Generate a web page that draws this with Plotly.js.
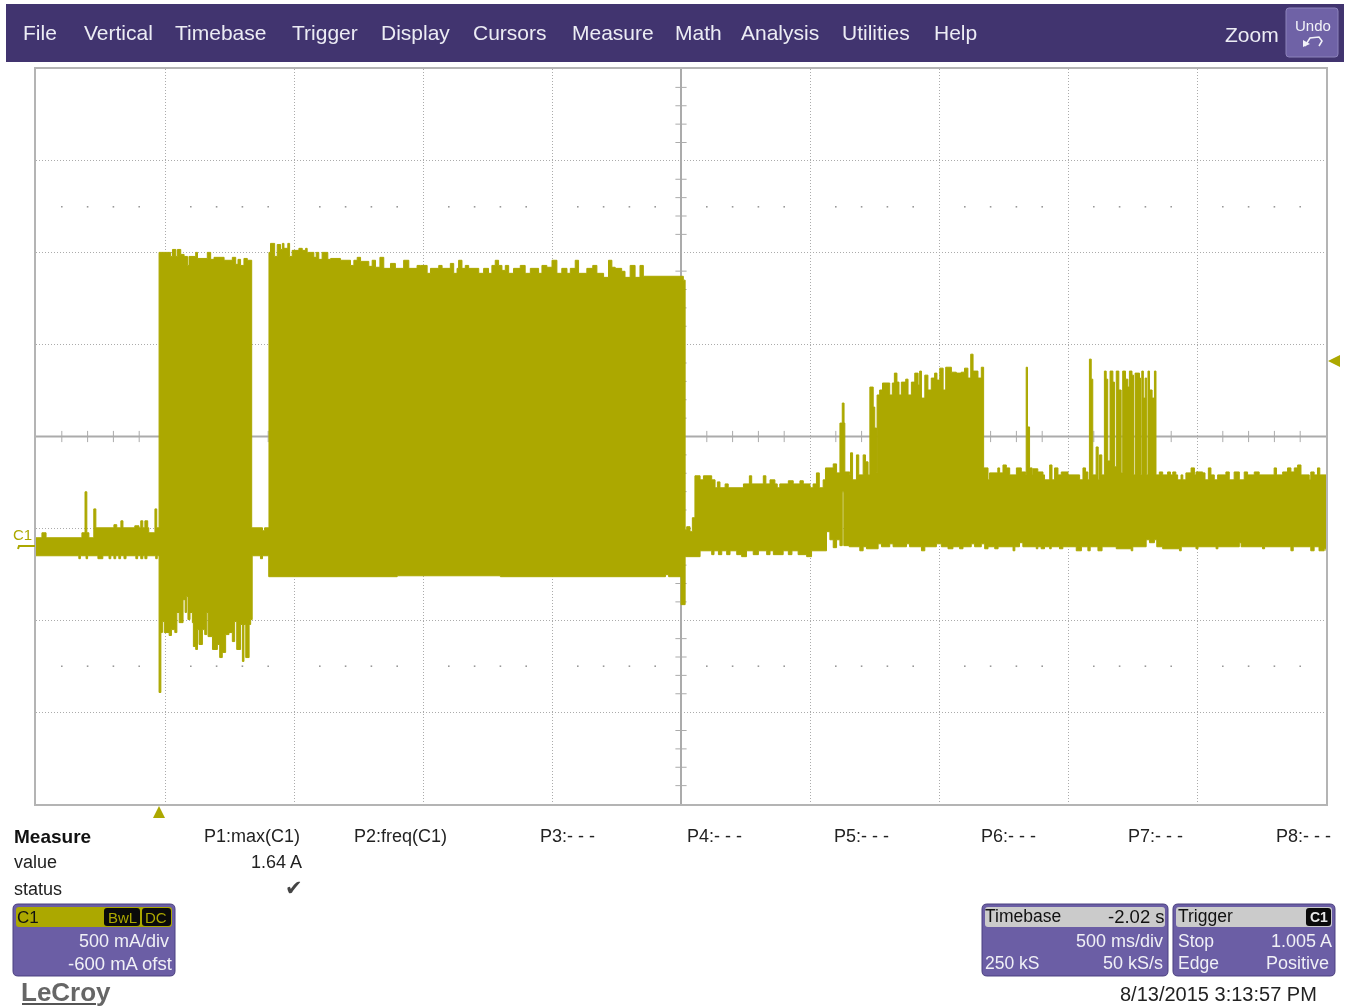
<!DOCTYPE html>
<html><head><meta charset="utf-8">
<script src="https://cdn.plot.ly/plotly-3.0.1.min.js"></script>
<style>html,body{margin:0;padding:0;background:#fff;overflow:hidden}#plot{width:1349px;height:1008px;filter:blur(0.35px)}</style>
</head><body><div id="plot"></div>
<script>
// Envelope of channel C1: time (ms), current (mA)
const idleTopTime=[0,23,39,178,190,197,205,224,232,302,313,329,337,383,399,406,414,422,433,437,461,468];
const idleTopMa=[38,65,38,65,288,65,38,195,92,109,92,130,92,103,92,130,92,130,92,65,195,92];
const burstATopTime=[477,522,529,542,548,561,574,587,593,619,626,664,677,690,729,761,774,783,793,806,819];
const burstATopMa=[1591,1569,1607,1569,1607,1580,1569,1520,1569,1591,1558,1591,1553,1564,1548,1564,1526,1553,1520,1558,1548];
const gapTopTime=[836,878,886];
const gapTopMa=[92,76,92];
const burstBTopTime=[903,909,925,935,948,955,961,976,983,993,1019,1032,1045,1051,1077,1086,1096,1109,1131,1142,1180,1219,1232,1245,1258,1290,1303,1316,1333,1348,1374,1393,1425,1445,1477,1490,1516,1529,1561,1574,1606,1619,1632,1638,1651,1664,1677,1716,1735,1754,1767,1780,1793,1806,1819,1832,1851,1877,1896,1916,1948,1961,1980,2000,2019,2038,2058,2071,2090,2103,2135,2158,2174,2200,2219,2232,2245,2270,2283,2303,2322,2341,2354,2509];
const burstBTopMa=[1591,1640,1569,1634,1607,1640,1613,1640,1569,1602,1613,1602,1613,1591,1564,1591,1553,1591,1553,1558,1548,1520,1548,1564,1542,1515,1548,1510,1564,1504,1531,1504,1548,1504,1520,1520,1477,1504,1520,1504,1531,1477,1504,1548,1504,1520,1504,1477,1504,1477,1520,1548,1520,1493,1520,1477,1504,1520,1477,1504,1477,1520,1510,1548,1477,1504,1477,1504,1548,1477,1504,1520,1477,1455,1548,1510,1504,1488,1455,1520,1455,1520,1461,1440];
const stepTopTime=[2516,2522,2535,2544,2554,2574,2587,2619,2632,2641,2651,2671,2683,2742,2765,2774,2819,2829,2845,2864,2873,2883,2916,2935,2961,2974,3000,3012,3025,3036,3051,3060,3090,3103];
const stepTopMa=[81,98,71,147,375,353,375,353,310,342,310,331,310,331,375,331,375,331,353,331,310,331,348,331,348,331,310,331,391,310,353,418,440,391];
const humpTopTime=[3116,3125,3132,3135,3154,3157,3165,3180,3189,3206,3215,3225,3232,3245,3251,3258,3260,3270,3281,3309,3319,3327,3337,3345,3354,3371,3380,3393,3406,3419,3425,3432,3445,3457,3470,3483,3492,3503,3516,3526,3548,3567,3586,3599,3612,3623,3632,3651,3664,3673,3690,3696,3728];
const humpTopMa=[662,771,662,396,380,500,353,489,380,489,451,380,858,749,635,391,815,842,880,815,880,934,885,815,885,901,815,885,934,869,945,798,923,842,907,934,896,961,842,966,939,934,939,961,907,1037,945,907,966,418,353,391,418];
const tailTopTime=[3735,3748,3761,3774,3800,3819,3836,3838,3843,3851,3861,3864,3883,3903,3909,3929,3938,3948,3961,3974,4000,4045,4058,4068,4077,4083,4090,4096,4109,4117,4122,4131,4141,4148,4154,4163,4174,4180,4187,4197,4206,4212,4223,4232,4238,4248,4254,4260,4277,4281,4286,4292,4299,4305,4310,4316,4326,4335,4341,4354,4367,4386,4397,4406,4418,4425,4438,4445,4457,4477,4490,4496,4522,4531,4544,4554,4567,4580,4612,4625,4644,4664,4683,4696,4722,4741,4799,4808,4832,4851,4864,4877,4890,4903,4935,4941,4954,4967,4976,5000];
const tailTopMa=[391,434,418,380,418,396,380,966,641,418,380,413,396,380,353,434,353,418,380,396,380,353,418,396,353,1010,901,380,532,353,489,380,945,901,456,945,885,424,945,842,391,945,901,858,945,923,380,934,907,380,945,798,907,380,945,842,798,945,380,396,380,396,380,396,380,353,380,353,391,418,380,396,391,353,418,380,353,380,396,353,396,353,396,380,396,380,418,380,396,418,396,418,434,380,353,396,380,418,380,380];
const idleBottomTime=[0,166,172,194,200,240,259,283,290,302,309,321,328,341,349,387,394,406,414,422,430,464,470];
const idleBottomMa=[-60,-76,-60,-76,-60,-76,-60,-76,-60,-76,-60,-76,-60,-76,-60,-76,-60,-76,-60,-76,-60,-76,-60];
const burstABottomTime=[477,484,490,497,516,525,538,546,555,570,578,583,589,597,606,610,619,626,632,645,654,662,667,684,703,712,722,735,748,761,770,778,793,800,806,813,826,832];
const burstABottomMa=[-804,-478,-418,-478,-494,-462,-478,-369,-424,-299,-369,-282,-407,-369,-424,-554,-570,-462,-543,-462,-489,-369,-500,-570,-543,-614,-586,-489,-478,-527,-418,-570,-434,-635,-434,-614,-434,-407];
const gapBottomTime=[838,870,878];
const gapBottomMa=[-60,-76,-60];
const burstBBottomTime=[902,1400,1800,2440,2452,2500];
const burstBBottomMa=[-174,-169,-174,-163,-174,-326];
const stepBottomTime=[2516,2574,2619,2628,2645,2658,2677,2690,2716,2735,2754,2780,2800,2832,2845,2858,2896,2916,2930,2954,2987,3006,3064,3077,3090,3103,3116,3125,3131];
const stepBottomMa=[-65,-33,-54,-33,-54,-33,-54,-33,-54,-65,-33,-54,-33,-54,-33,-54,-33,-54,-33,-54,-65,-33,71,27,-16,27,-5,288,-5];
const humpBottomTime=[3152,3193,3206,3219,3264,3277,3309,3322,3374,3386,3432,3445,3490,3509,3535,3554,3580,3593,3625,3638,3664,3677,3690,3716,3729];
const humpBottomMa=[-11,-33,-11,-22,5,-11,5,-11,5,-11,-33,-11,5,-11,-22,-11,-22,-11,5,-11,5,-22,-11,-22,-11];
const tailBottomTime=[3787,3794,3812,3825,3877,3883,3896,3909,3929,3935,3967,3980,4032,4052,4077,4086,4116,4132,4187,4245,4251,4303,4316,4335,4344,4367,4432,4439,4496,4504,4574,4581,4664,4671,4754,4762,4864,4873,4941,4954,4973,4993,5000];
const tailBottomMa=[-33,-11,11,-11,-22,-11,-22,-11,-22,-11,-22,-11,-33,-11,-33,-11,-33,-11,-22,-33,-11,27,11,27,-11,-22,-33,-11,-22,-11,-22,-11,11,-11,-22,-11,-33,-11,-33,-11,-33,-22,-33];
const probeZeroMa=11; // the ground marker sits slightly above the -600 mA offset line

const menuLabels=["File","Vertical","Timebase","Trigger","Display","Cursors","Measure","Math","Analysis","Utilities","Help"];
const menuLeft=[23,84,175,292,381,473,572,675,741,842,934];
const paramLabels=["P1:max(C1)","P2:freq(C1)","P3:- - -","P4:- - -","P5:- - -","P6:- - -","P7:- - -","P8:- - -"];
const paramLeft=[204,354,540,687,834,981,1128,1276];

const W=1349,H=1008,OLIVE="#ACA800",GRID="#ababab",PANEL="#6B5EA5",BAR="#41346F";
const px=x=>x/W, py=y=>1-y/H;
const topTime=[].concat(idleTopTime,burstATopTime,gapTopTime,burstBTopTime,stepTopTime,humpTopTime,tailTopTime);
const topMa=[].concat(idleTopMa,burstATopMa,gapTopMa,burstBTopMa,stepTopMa,humpTopMa,tailTopMa).map(v=>v+probeZeroMa);
const bottomTime=[].concat(idleBottomTime,burstABottomTime,gapBottomTime,burstBBottomTime,stepBottomTime,humpBottomTime,tailBottomTime);
const bottomMa=[].concat(idleBottomMa,burstABottomMa,gapBottomMa,burstBBottomMa,stepBottomMa,humpBottomMa,tailBottomMa).map(v=>v+probeZeroMa);

// Graticule marks
const xTicks=[],yTicks=[],dotX=[],dotY=[];
for(let t=0;t<=5000;t+=100){ if(t%500) xTicks.push(t); }
for(let v=-1400;v<=2600;v+=100){ if((v-600)%500) yTicks.push(v); }
xTicks.forEach(t=>{dotX.push(t,t);dotY.push(1850,-650);});

const traces=[
 {x:[0,5000],y:[600,600],mode:"lines",line:{color:GRID,width:2},hoverinfo:"skip"},
 {x:[2500,2500],y:[-1400,2600],mode:"lines",line:{color:GRID,width:2},hoverinfo:"skip"},
 {x:xTicks,y:xTicks.map(()=>600),mode:"markers",marker:{symbol:"line-ns",size:8,line:{color:GRID,width:1}},hoverinfo:"skip"},
 {x:yTicks.map(()=>2500),y:yTicks,mode:"markers",marker:{symbol:"line-ew",size:8,line:{color:GRID,width:1}},hoverinfo:"skip"},
 {x:dotX,y:dotY,mode:"markers",marker:{symbol:"square",size:1.6,color:"#999"},hoverinfo:"skip"},
 {x:bottomTime,y:bottomMa,mode:"lines",line:{color:OLIVE,width:1,shape:"hv"},hoverinfo:"skip"},
 {x:topTime,y:topMa,mode:"lines",fill:"tonexty",fillcolor:OLIVE,line:{color:OLIVE,width:1,shape:"hv"},hoverinfo:"skip"}
];

function rr(x0,y0,x1,y1,r){
 const X=a=>px(a).toFixed(5),Y=a=>py(a).toFixed(5);
 return `M${X(x0+r)},${Y(y0)}L${X(x1-r)},${Y(y0)}Q${X(x1)},${Y(y0)} ${X(x1)},${Y(y0+r)}L${X(x1)},${Y(y1-r)}Q${X(x1)},${Y(y1)} ${X(x1-r)},${Y(y1)}L${X(x0+r)},${Y(y1)}Q${X(x0)},${Y(y1)} ${X(x0)},${Y(y1-r)}L${X(x0)},${Y(y0+r)}Q${X(x0)},${Y(y0)} ${X(x0+r)},${Y(y0)}Z`;
}
const box=(x0,y0,x1,y1,r,fill,stroke)=>({type:"path",xref:"paper",yref:"paper",path:rr(x0,y0,x1,y1,r),fillcolor:fill,line:{color:stroke||fill,width:stroke?1:0},layer:"above"});
const poly=(pts,fill)=>({type:"path",xref:"paper",yref:"paper",path:"M"+pts.map(p=>px(p[0]).toFixed(5)+","+py(p[1]).toFixed(5)).join("L")+"Z",fillcolor:fill,line:{width:0},layer:"above"});
const seg=(pts,color,w)=>({type:"path",xref:"paper",yref:"paper",path:"M"+pts.map(p=>px(p[0]).toFixed(5)+","+py(p[1]).toFixed(5)).join("L"),line:{color:color,width:w},layer:"above"});

const shapes=[
 box(6,4,1344,62,0,BAR),
 box(1286,8,1338,57,3,"#6F62A6","#8d83bb"),
 seg([[1305,46],[1310,38],[1319,37],[1322,41],[1319,46]],"#f2f2f8",1.5),
 poly([[1303,47],[1303,40],[1310,44]],"#f2f2f8"),
 poly([[153,818],[165,818],[159,806]],OLIVE),
 poly([[1328,361],[1340,355],[1340,367]],OLIVE),
 seg([[18,549],[19,546],[35,546]],OLIVE,2),
 box(13,904,175,976,5,PANEL,"#4b4080"),
 box(16,907,172,927,3,OLIVE),
 box(104,908,140,926,3,"#0a0a0a"),
 box(142,908,171,926,3,"#0a0a0a"),
 box(982,904,1168,976,5,PANEL,"#4b4080"),
 box(985,907,1165,927,3,"#CBCBCB"),
 box(1173,904,1335,976,5,PANEL,"#4b4080"),
 box(1176,907,1332,927,3,"#CBCBCB"),
 box(1306,908,1331,926,3,"#0a0a0a"),
 seg([[22,1004],[96,1004]],"#555",2)
];

const SANS="Liberation Sans, Arial, sans-serif";
const label=(text,x,y,size,color,anchor,extra)=>Object.assign({text:text,xref:"paper",yref:"paper",x:px(x),y:py(y),xanchor:anchor||"left",yanchor:"middle",showarrow:false,borderpad:0,borderwidth:0,font:{family:SANS,size:size,color:color}},extra||{});
const annotations=[];
menuLabels.forEach((t,i)=>annotations.push(label(t,menuLeft[i],33,21,"#ECECF4")));
annotations.push(label("Zoom",1279,35,21,"#ECECF4","right"));
annotations.push(label("Undo",1313,25,15,"#F2F2F8","center"));
annotations.push(label("<b>Measure</b>",14,836,19,"#111"));
paramLabels.forEach((t,i)=>annotations.push(label(t,paramLeft[i],836,18,"#222")));
annotations.push(label("value",14,862,18,"#222"));
annotations.push(label("status",14,889,18,"#222"));
annotations.push(label("1.64 A",302,862,18,"#222","right"));
annotations.push(Object.assign(label("✔",303,888,21,"#444","right"),{font:{family:"DejaVu Sans",size:21,color:"#444"}}));
annotations.push(label("C1",22,534,15,OLIVE,"center"));
annotations.push(label("C1",17,917,17,"#111"));
annotations.push(label("BwL",122,917,15,OLIVE,"center"));
annotations.push(label("DC",156,917,15,OLIVE,"center"));
annotations.push(label("500 mA/div",169,941,18,"#F0F0F6","right"));
annotations.push(label("-600 mA ofst",172,963,18.5,"#F0F0F6","right"));
annotations.push(label("Timebase",985,916,17.5,"#111"));
annotations.push(label("-2.02 s",1165,916,18.5,"#111","right"));
annotations.push(label("500 ms/div",1163,941,18,"#F0F0F6","right"));
annotations.push(label("250 kS",985,963,17.5,"#F0F0F6"));
annotations.push(label("50 kS/s",1163,963,18,"#F0F0F6","right"));
annotations.push(label("Trigger",1178,916,17.5,"#111"));
annotations.push(label("<b>C1</b>",1319,917,14,"#E8E8E8","center"));
annotations.push(label("Stop",1178,941,17.5,"#F0F0F6"));
annotations.push(label("1.005 A",1332,941,18,"#F0F0F6","right"));
annotations.push(label("Edge",1178,963,17.5,"#F0F0F6"));
annotations.push(label("Positive",1329,963,18,"#F0F0F6","right"));
annotations.push(label("<b>LeCroy</b>",21,992,26,"#666"));
annotations.push(label("8/13/2015 3:13:57 PM",1317,994,20,"#222","right"));

const layout={
 width:W,height:H,margin:{l:0,r:0,t:0,b:0,pad:0},paper_bgcolor:"#fff",plot_bgcolor:"#fff",showlegend:false,
 xaxis:{domain:[px(36),px(1326)],range:[0,5000],tick0:0,dtick:500,showgrid:true,gridcolor:GRID,griddash:"1px,2px",gridwidth:1,zeroline:false,showline:true,mirror:true,linecolor:"#b4b4b4",linewidth:2,ticks:"",showticklabels:false,fixedrange:true},
 yaxis:{domain:[py(804),py(69)],range:[-1400,2600],tick0:600,dtick:500,showgrid:true,gridcolor:GRID,griddash:"1px,2px",gridwidth:1,zeroline:false,showline:true,mirror:true,linecolor:"#b4b4b4",linewidth:2,ticks:"",showticklabels:false,fixedrange:true},
 shapes:shapes,annotations:annotations
};
Plotly.newPlot("plot",traces,layout,{displayModeBar:false,staticPlot:true});
</script></body></html>
